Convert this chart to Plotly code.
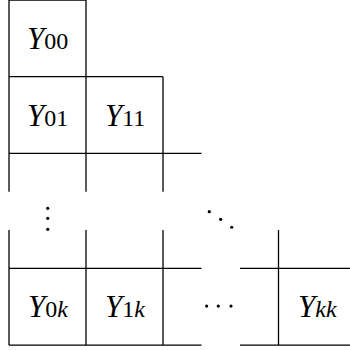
import plotly.graph_objects as go

# grid in cell units, rows grow downwards
h_lines = [(0, 0, 1), (1, 0, 2), (2, 0, 2.5), (3.5, 0, 2.5), (3.5, 3, 4.6),
           (4.5, 0, 2.5), (4.5, 3, 4.6)]          # (y, x0, x1)
v_lines = [(0, 0, 2.5), (0, 3, 4.5), (1, 0, 2.5), (1, 3, 4.5),
           (2, 1, 2.5), (2, 3, 4.5), (3.5, 3, 4.5)]  # (x, y0, y1)

# cell labels
label_x = [0.5, 0.5, 1.5, 0.5, 1.5, 4.0]
label_y = [0.5, 1.5, 1.5, 4.0, 4.0, 4.0]
label_sub = ["00", "01", "11", "0<i>k</i>", "1<i>k</i>", "<i>kk</i>"]

# ellipsis dots
vdots_x = [0.503, 0.503, 0.503]
vdots_y = [2.716, 2.846, 2.990]
ddots_x = [2.601, 2.749, 2.892]
ddots_y = [2.760, 2.859, 2.963]
hdots_x = [2.567, 2.718, 2.883]
hdots_y = [3.990, 3.990, 3.990]

xs, ys = [], []
for y, x0, x1 in h_lines:
    xs += [x0, x1, None]
    ys += [y, y, None]
for x, y0, y1 in v_lines:
    xs += [x, x, None]
    ys += [y0, y1, None]

fig = go.Figure()
fig.add_trace(go.Scatter(x=xs, y=ys, mode="lines",
                         line=dict(color="black", width=1.3),
                         hoverinfo="skip"))
fig.add_trace(go.Scatter(x=vdots_x + ddots_x + hdots_x,
                         y=vdots_y + ddots_y + hdots_y,
                         mode="markers",
                         marker=dict(color="black", size=3.2),
                         hoverinfo="skip"))

for x, y, s in zip(label_x, label_y, label_sub):
    fig.add_annotation(x=x, y=y, showarrow=False, xanchor="center", yanchor="middle",
                       text="<i>Y</i><span style='font-size:24px'>" + s + "</span>",
                       font=dict(family="Times New Roman, Liberation Serif, serif",
                                 size=31, color="black"))

fig.update_layout(
    width=350, height=350,
    margin=dict(l=0, r=0, t=0, b=0),
    paper_bgcolor="white", plot_bgcolor="white",
    showlegend=False,
    xaxis=dict(range=[-9 / 77, 341 / 77], visible=False, fixedrange=True),
    yaxis=dict(range=[350 / 76.7, 0], visible=False, fixedrange=True),
)

# drop the default 8px body margin so the figure sits at the window corner
fig.write_html("out.html", config={"displayModeBar": False},
               post_script="document.body.style.margin='0';")
